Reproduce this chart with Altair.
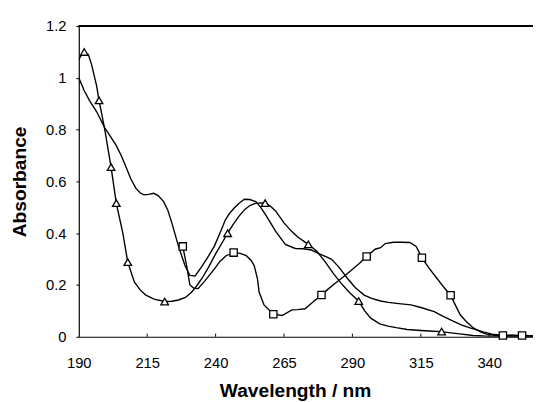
import altair as alt
import pandas as pd

# ---- data ----
tri_wl = [190, 191, 192, 193.5, 194.7, 196.5, 197.4, 199.5, 201.8, 203.7, 206.1, 207.9, 210.3,
          212.5, 214.5, 217.5, 221.4, 224, 226.4, 229, 231.2, 233, 235, 237.5, 240, 242.5, 244.4,
          246.5, 248.5, 250.5, 252.5, 254.5, 256.5, 258.1, 260, 262, 265, 267.5, 270, 273.9, 277,
          280, 283, 286, 289, 292.3, 294.5, 296.7, 300, 303, 306, 310, 315, 318, 322.6, 326, 330,
          334, 338, 345, 356]
tri_abs = [1.07, 1.09, 1.10, 1.09, 1.05, 0.97, 0.913, 0.80, 0.655, 0.516, 0.40, 0.288, 0.212,
           0.18, 0.161, 0.145, 0.136, 0.137, 0.142, 0.152, 0.172, 0.195, 0.225, 0.27, 0.32, 0.365,
           0.40, 0.435, 0.465, 0.49, 0.507, 0.515, 0.517, 0.516, 0.505, 0.485, 0.44, 0.41, 0.385,
           0.357, 0.33, 0.29, 0.245, 0.205, 0.17, 0.138, 0.10, 0.072, 0.05, 0.041, 0.035, 0.028,
           0.024, 0.022, 0.02, 0.015, 0.01, 0.005, 0.003, 0.002, 0.002]

plain_wl = [190, 192, 194.1, 196.5, 199.5, 201.5, 203.7, 205.5, 207.3, 209, 210.9, 212.5, 213.8,
            215.5, 217.4, 219, 221, 222.5, 224, 226.4, 228.8, 230.6, 232.5, 234.8, 237, 239.6, 242,
            243.5, 245, 246.8, 248.5, 250.5, 252.5, 254.7, 256.5, 258.3, 261.9, 265.5, 269.1, 272,
            275, 278, 282.3, 285, 288.3, 291, 294.3, 297, 300.3, 303.1, 307, 311.4, 315, 319.9, 323,
            327, 330, 333, 337.8, 341, 345, 356]
plain_abs = [1.0, 0.95, 0.909, 0.87, 0.807, 0.775, 0.738, 0.70, 0.655, 0.61, 0.573, 0.555, 0.548,
             0.55, 0.554, 0.545, 0.522, 0.49, 0.44, 0.351, 0.275, 0.237, 0.235, 0.269, 0.305, 0.351,
             0.41, 0.45, 0.475, 0.497, 0.515, 0.531, 0.53, 0.522, 0.50, 0.471, 0.408, 0.357, 0.341,
             0.34, 0.335, 0.32, 0.30, 0.27, 0.224, 0.19, 0.161, 0.148, 0.138, 0.133, 0.128, 0.123,
             0.113, 0.097, 0.08, 0.059, 0.045, 0.034, 0.019, 0.01, 0.005, 0.003]

sq_wl = [228, 229.5, 230.6, 232, 233.6, 236, 239.6, 241.5, 243.8, 246.6, 249, 251.2, 253, 254.1,
         255.3, 255.9, 257.7, 261.1, 264.3, 267.9, 270, 272.7, 275.7, 278.7, 281, 283.5, 286.5,
         289.5, 292.5, 295.2, 298.3, 300.3, 302, 305, 308, 311, 313.3, 315.4, 318, 321, 323.5,
         325.9, 327.5, 329.4, 331.5, 334.2, 337, 339, 342, 345, 348, 352, 356]
sq_abs = [0.349, 0.27, 0.2, 0.188, 0.186, 0.215, 0.262, 0.29, 0.313, 0.325, 0.322, 0.313, 0.295,
          0.275, 0.224, 0.173, 0.123, 0.087, 0.082, 0.104, 0.105, 0.108, 0.135, 0.161, 0.183,
          0.205, 0.23, 0.256, 0.283, 0.31, 0.338, 0.344, 0.36, 0.365, 0.365, 0.364, 0.349, 0.305,
          0.265, 0.224, 0.19, 0.16, 0.125, 0.085, 0.06, 0.034, 0.018, 0.01, 0.006, 0.005, 0.006,
          0.005, 0.004]

tri_marks = [192, 197.4, 201.8, 203.7, 207.9, 221.4, 244.4, 258.1, 273.9, 292.3, 322.6]
sq_marks = [228, 246.6, 261.1, 278.7, 295.2, 315.4, 325.9, 345, 352]

x_ticks = [190, 215, 240, 265, 290, 315, 340]
y_ticks = [0, 0.2, 0.4, 0.6, 0.8, 1.0, 1.2]

# ---- tables ----
df = pd.concat([
    pd.DataFrame({"wl": tri_wl, "a": tri_abs, "series": "tri"}),
    pd.DataFrame({"wl": plain_wl, "a": plain_abs, "series": "plain"}),
    pd.DataFrame({"wl": sq_wl, "a": sq_abs, "series": "sq"}),
], ignore_index=True)
df_tri = df[(df.series == "tri") & (df.wl.isin(tri_marks))]
df_sq = df[(df.series == "sq") & (df.wl.isin(sq_marks))]
df_ticks = pd.DataFrame({"wl": x_ticks[1:]})

W, H = 462, 316
FONT = "Liberation Sans"

xs = alt.Scale(domain=[190, 356], nice=False, zero=False)
ys = alt.Scale(domain=[0, 1.2], nice=False)

x_axis = alt.Axis(values=x_ticks, title="Wavelength / nm", ticks=False, tickSize=0,
                  labelPadding=19, labelFontSize=15, labelFlush=False,
                  titleFontSize=19.5, titleFontWeight="bold", titleX=220, titleY=61,
                  titleBaseline="alphabetic", titleAlign="center")
y_axis = alt.Axis(values=y_ticks, format=".1~f", title="Absorbance", tickSize=3,
                  labelPadding=10, labelFontSize=15, titleFontSize=19.5,
                  titleFontWeight="bold", titleX=-54, titleY=158, titleAngle=270,
                  titleBaseline="alphabetic", titleAlign="center")

X = alt.X("wl:Q", scale=xs, axis=x_axis)
Y = alt.Y("a:Q", scale=ys, axis=y_axis)

lines = alt.Chart(df).mark_line(color="black", strokeWidth=1.4, clip=True).encode(
    x=X, y=Y, detail="series:N")

tris = alt.Chart(df_tri).mark_point(shape="triangle-up", filled=True, fill="white",
                                    stroke="black", strokeWidth=1.3, size=60, opacity=1).encode(x=X, y=Y)
sqs = alt.Chart(df_sq).mark_point(shape="square", filled=True, fill="white",
                                  stroke="black", strokeWidth=1.3, size=55, opacity=1).encode(x=X, y=Y)

inner_ticks = alt.Chart(df_ticks).mark_rule(color="black", strokeWidth=1).encode(
    x=alt.X("wl:Q", scale=xs, axis=x_axis), y=alt.datum(0), y2=alt.datum(0.012))

top_line = alt.Chart(df_ticks).mark_rule(color="black", strokeWidth=1.2).encode(
    x=alt.value(0), x2=alt.value(W), y=alt.value(0))

chart = alt.layer(lines, inner_ticks, tris, sqs, top_line).properties(
    width=W, height=H,
    autosize=alt.AutoSizeParams(type="none"),
    padding={"left": 72, "top": 15, "right": 0, "bottom": 64},
    background="white",
).configure_view(stroke=None).configure_axis(
    labelFont=FONT, titleFont=FONT, labelColor="black", titleColor="black",
    domainColor="black", tickColor="black", domainWidth=1.2, grid=False,
)

chart.save("out.html", embed_options={"renderer": "svg", "actions": False})
